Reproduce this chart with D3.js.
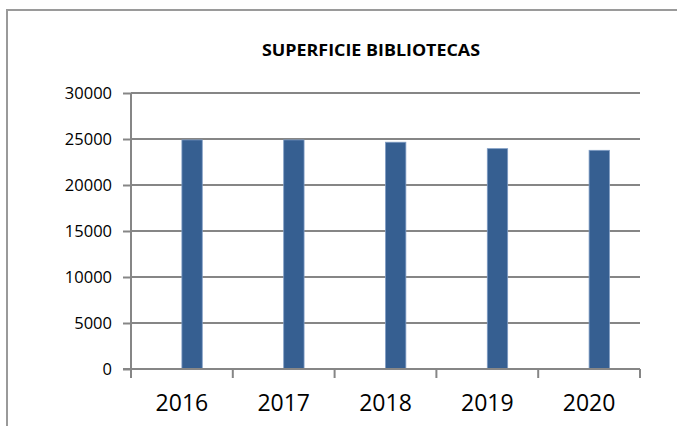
<!DOCTYPE html>
<html>
<head>
<meta charset="utf-8">
<script src="https://cdn.jsdelivr.net/npm/d3@7"></script>
<style>
  body { margin: 0; background: #fff; }
  svg { display: block; font-family: 'Open Sans', sans-serif; }
</style>
</head>
<body>
<div id="chart"></div>
<script>
var years = ['2016', '2017', '2018', '2019', '2020'];
var superficie = [24900, 24900, 24650, 23950, 23770];
var yTicks = [0, 5000, 10000, 15000, 20000, 25000, 30000];
var title = 'SUPERFICIE BIBLIOTECAS';

var width = 677;
var height = 426;
var plot = {left: 131, right: 640, top: 93, bottom: 369};
var gridColor = '#868686';
var barColor = '#365f91';

var svg = d3.select('#chart')
  .append('svg')
  .attr('width', width)
  .attr('height', height);

// outer frame (only left and top visible)
svg.append('path')
  .attr('d', 'M7,' + height + 'V10H' + width)
  .style('fill', 'none')
  .style('stroke', '#9a9a9a')
  .style('stroke-width', 2);

var x = d3.scaleBand().domain(years).range([plot.left, plot.right]);
var y = d3.scaleLinear().domain([0, 30000]).range([plot.bottom, plot.top]);

// gridlines
svg.append('g')
  .selectAll('line')
  .data(yTicks.filter((d) => d > 0))
  .enter()
  .append('line')
  .attr('x1', plot.left)
  .attr('x2', plot.right)
  .attr('y1', (d) => y(d))
  .attr('y2', (d) => y(d))
  .style('stroke', gridColor)
  .style('stroke-width', 2);

// bars, drawn from the band centre to the right
svg.append('g')
  .selectAll('rect')
  .data(superficie)
  .enter()
  .append('rect')
  .attr('x', (d, i) => x(years[i]) + x.bandwidth() / 2)
  .attr('y', (d) => y(d))
  .attr('width', x.bandwidth() * 0.2)
  .attr('height', (d) => y(0) - y(d))
  .style('fill', barColor)
  .style('stroke', '#7f9cc4')
  .style('stroke-width', 0.8);

// y axis
var yAxis = d3.axisLeft(y).tickValues(yTicks).tickFormat(d3.format('d')).tickSize(8).tickPadding(11);
var gy = svg.append('g')
  .attr('transform', 'translate(' + plot.left + ',0)')
  .call(yAxis);
gy.select('.domain').attr('d', 'M0,' + plot.top + 'V' + (plot.bottom + 8));
gy.selectAll('line').style('stroke', gridColor).style('stroke-width', 2);
gy.select('.domain').style('stroke', gridColor).style('stroke-width', 2);
gy.selectAll('text')
  .style('font-family', 'Open Sans')
  .style('font-size', '16.5px')
  .style('fill', '#000');

// x axis with ticks on the band edges
var xAxis = svg.append('g')
  .attr('transform', 'translate(0,' + plot.bottom + ')');
xAxis.append('line')
  .attr('x1', plot.left - 8)
  .attr('x2', plot.right)
  .style('stroke', gridColor)
  .style('stroke-width', 2);
xAxis.selectAll('.tick')
  .data(years.concat(['end']))
  .enter()
  .append('line')
  .attr('class', 'tick')
  .attr('x1', (d) => d === 'end' ? plot.right : x(d))
  .attr('x2', (d) => d === 'end' ? plot.right : x(d))
  .attr('y1', 0)
  .attr('y2', 9)
  .style('stroke', gridColor)
  .style('stroke-width', 2);
xAxis.selectAll('text')
  .data(years)
  .enter()
  .append('text')
  .attr('x', (d) => x(d) + x.bandwidth() / 2)
  .attr('y', 42)
  .attr('text-anchor', 'middle')
  .style('font-size', '23px')
  .style('fill', '#000')
  .text((d) => d);

// title
svg.append('text')
  .attr('x', 371)
  .attr('y', 56)
  .attr('text-anchor', 'middle')
  .style('font-weight', 'bold')
  .style('font-size', '16px')
  .attr('textLength', 218)
  .attr('lengthAdjust', 'spacingAndGlyphs')
  .style('fill', '#000')
  .text(title);
</script>
</body>
</html>
